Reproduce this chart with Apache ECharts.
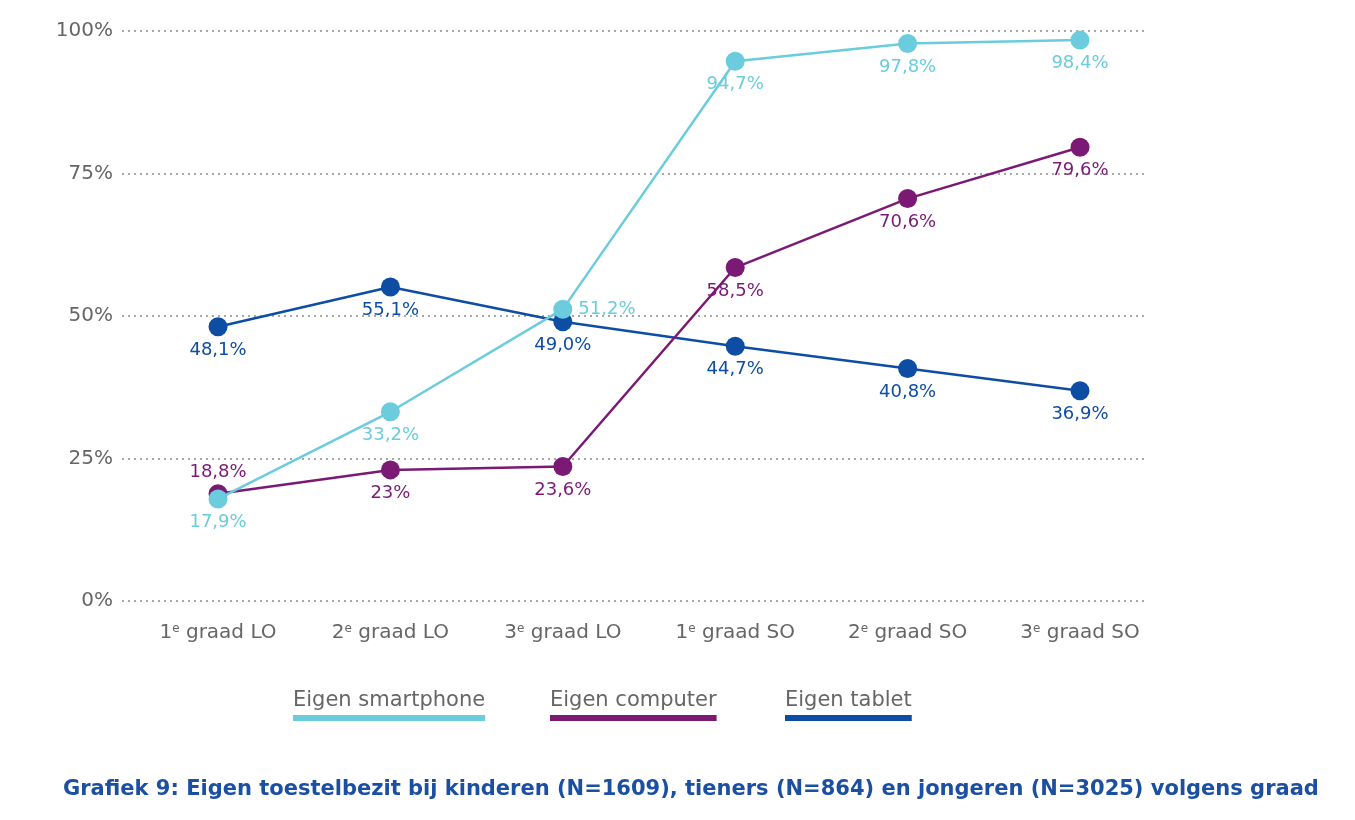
<!DOCTYPE html>
<html lang="nl">
<head>
<meta charset="UTF-8" />
<title>Grafiek 9</title>
<script src="https://cdn.jsdelivr.net/npm/echarts@6/dist/echarts.min.js"></script>
<style>
  html, body { margin: 0; padding: 0; background: #fff; }
  #main { width: 1355px; height: 820px; }
</style>
</head>
<body>
<div id="main"></div>
<script>
// data
const categories = ['1e graad LO', '2e graad LO', '3e graad LO', '1e graad SO', '2e graad SO', '3e graad SO'];
const seriesNames = ['Eigen smartphone', 'Eigen computer', 'Eigen tablet'];
const smartphone = ['17.9', '33.2', '51.2', '94.7', '97.8', '98.4'];
const computer = ['18.8', '23', '23.6', '58.5', '70.6', '79.6'];
const tablet = ['48.1', '55.1', '49.0', '44.7', '40.8', '36.9'];
const yTicks = [0, 25, 50, 75, 100];

const colors = ['#6accdd', '#7b1a75', '#0e4da4'];
const FONT = 'DejaVu Sans';
const values = [smartphone, computer, tablet];

// label placement exceptions (series index -> data index -> position)
const labelPos = { 1: { 0: 'top' }, 0: { 2: 'right' } };

const chart = echarts.init(document.getElementById('main'));

function makeSeries(si) {
    return {
        name: seriesNames[si],
        type: 'line',
        z: 10 - si,
        data: values[si].map((s, i) => {
            const item = { value: [i, Number(s)] };
            const pos = labelPos[si] && labelPos[si][i];
            if (pos) item.label = { position: pos, distance: pos === 'right' ? 6 : 3 };
            return item;
        }),
        symbol: 'circle',
        symbolSize: 19,
        lineStyle: { color: colors[si], width: 2.5 },
        itemStyle: { color: colors[si] },
        label: {
            show: true,
            position: 'bottom',
            distance: 5,
            color: colors[si],
            fontFamily: FONT,
            fontSize: 18,
            formatter: p => values[si][p.dataIndex].replace('.', ',') + '%'
        }
    };
}

// legend: text with a thick underline in the series colour
const legendFont = '21px "' + FONT + '"';
const ctx = document.createElement('canvas').getContext('2d');
ctx.font = legendFont;
const legendX = [293, 550, 785];
const legendGraphics = [];
seriesNames.forEach((n, i) => {
    const w = ctx.measureText(n).width;
    legendGraphics.push({
        type: 'text', left: legendX[i], top: 690,
        style: { text: n, fill: '#666', font: legendFont }
    });
    legendGraphics.push({
        type: 'rect', left: legendX[i], top: 715,
        shape: { width: w, height: 6 },
        style: { fill: colors[i] }
    });
});

chart.setOption({
    animation: false,
    backgroundColor: '#fff',
    title: {
        text: 'Grafiek 9: Eigen toestelbezit bij kinderen (N=1609), tieners (N=864) en jongeren (N=3025) volgens graad',
        left: 63,
        top: 779,
        padding: 0,
        textStyle: { color: '#1b4fa2', fontFamily: FONT, fontWeight: 'bold', fontSize: 21 }
    },
    grid: { left: 122, right: 210, top: 31, bottom: 219 },
    xAxis: {
        type: 'value',
        min: -0.557,
        max: 5.377,
        axisLine: { show: false },
        axisTick: { show: false },
        splitLine: { show: false },
        axisLabel: {
            customValues: categories.map((c, i) => i),
            margin: 22,
            color: '#666',
            fontFamily: FONT,
            fontSize: 20,
            formatter: v => {
                const m = categories[Math.round(v)].match(/^(\d)e (.*)$/);
                return '{n|' + m[1] + '}{s|e}{t| ' + m[2] + '}';
            },
            rich: {
                n: { fontSize: 20, color: '#666', fontFamily: FONT },
                s: { fontSize: 12, color: '#666', fontFamily: FONT, verticalAlign: 'top', padding: [0, 0, 8, 0] },
                t: { fontSize: 20, color: '#666', fontFamily: FONT }
            }
        }
    },
    yAxis: {
        type: 'value',
        min: yTicks[0],
        max: yTicks[yTicks.length - 1],
        interval: 25,
        axisLine: { show: false },
        axisTick: { show: false },
        axisLabel: { formatter: '{value}%', color: '#666', fontFamily: FONT, fontSize: 20, margin: 9 },
        splitLine: { lineStyle: { color: '#a8a8a8', type: [2, 4], width: 2 } }
    },
    graphic: legendGraphics,
    series: [makeSeries(2), makeSeries(1), makeSeries(0)]
});
</script>
</body>
</html>
